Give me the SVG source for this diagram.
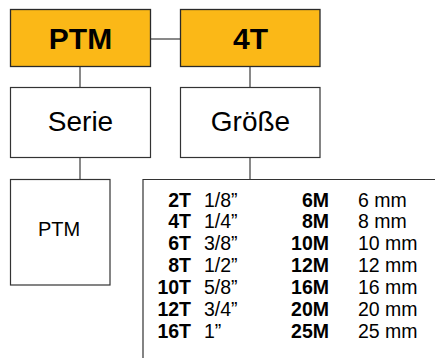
<svg xmlns="http://www.w3.org/2000/svg" width="435" height="358" viewBox="0 0 435 358">
<style>
.hd{fill:#FBB817;stroke:#2a2a2a;stroke-width:1.3}
.bx{fill:#fff;stroke:#333;stroke-width:1.2}
.cn{stroke:#4a4a4a;stroke-width:1.3;fill:none}
text{font-family:"Liberation Sans",Arial,Helvetica,sans-serif;fill:#000}
.hl{font-size:30px;font-weight:bold;text-anchor:middle}
.ml{font-size:28px;text-anchor:middle}
.sl{font-size:20px;text-anchor:middle}
.b{font-size:19.5px;font-weight:bold;text-anchor:end}
.r{font-size:19.5px}
</style>
<g id="connectors">
<line class="cn" x1="150.5" y1="39" x2="180.5" y2="39"/>
<line class="cn" x1="80" y1="66" x2="80" y2="88"/>
<line class="cn" x1="250" y1="66" x2="250" y2="88"/>
<line class="cn" x1="80" y1="157" x2="80" y2="179"/>
<line class="cn" x1="250" y1="157" x2="250" y2="179"/>
</g>
<g id="ptm-head"><rect class="hd" x="10.5" y="9.5" width="140" height="57"/><text class="hl" x="80.5" y="49">PTM</text></g>
<g id="size-head"><rect class="hd" x="180.5" y="9.5" width="139.5" height="57"/><text class="hl" x="250.5" y="49">4T</text></g>
<g id="serie"><rect class="bx" x="10.5" y="87.5" width="140" height="70"/><text class="ml" x="80.5" y="131">Serie</text></g>
<g id="groesse"><rect class="bx" x="180.5" y="87.5" width="139.5" height="70"/><text class="ml" x="250.5" y="131">Größe</text></g>
<g id="serie-values"><rect class="bx" x="10.5" y="179.5" width="99.5" height="105.5"/><text class="sl" x="59" y="236">PTM</text></g>
<g id="size-values">
<path class="bx" d="M143 358 V179.5 H436"/>
<text class="b" x="191" y="206.5">2T</text><text class="r" x="204" y="206.5">1/8”</text><text class="b" x="329" y="206.5">6M</text><text class="r" x="358" y="206.5">6 mm</text>
<text class="b" x="191" y="228.4">4T</text><text class="r" x="204" y="228.4">1/4”</text><text class="b" x="329" y="228.4">8M</text><text class="r" x="358" y="228.4">8 mm</text>
<text class="b" x="191" y="250.3">6T</text><text class="r" x="204" y="250.3">3/8”</text><text class="b" x="329" y="250.3">10M</text><text class="r" x="358" y="250.3">10 mm</text>
<text class="b" x="191" y="272.2">8T</text><text class="r" x="204" y="272.2">1/2”</text><text class="b" x="329" y="272.2">12M</text><text class="r" x="358" y="272.2">12 mm</text>
<text class="b" x="191" y="294.1">10T</text><text class="r" x="204" y="294.1">5/8”</text><text class="b" x="329" y="294.1">16M</text><text class="r" x="358" y="294.1">16 mm</text>
<text class="b" x="191" y="316">12T</text><text class="r" x="204" y="316">3/4”</text><text class="b" x="329" y="316">20M</text><text class="r" x="358" y="316">20 mm</text>
<text class="b" x="191" y="338">16T</text><text class="r" x="204" y="338">1”</text><text class="b" x="329" y="338">25M</text><text class="r" x="358" y="338">25 mm</text>
</g>
</svg>
